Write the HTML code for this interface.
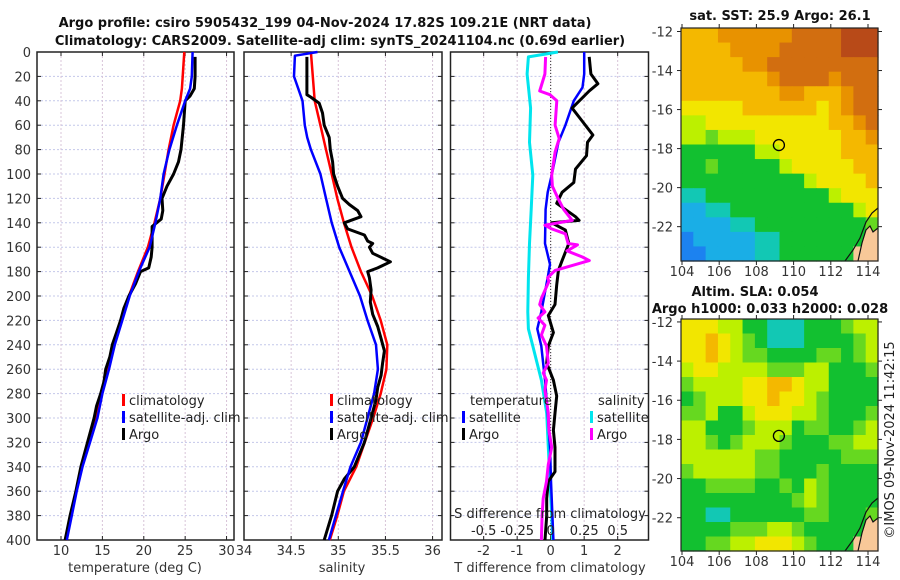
<!DOCTYPE html>
<html><head><meta charset="utf-8">
<style>
html,body{margin:0;padding:0;background:#fff;}
svg{display:block;font-family:"DejaVu Sans","Liberation Sans",sans-serif;}
</style></head>
<body>
<svg id="fig" width="900" height="580" viewBox="0 0 900 580" xmlns="http://www.w3.org/2000/svg">
<text x="325" y="27" text-anchor="middle" font-size="13" font-weight="bold" fill="#111">Argo profile: csiro 5905432_199 04-Nov-2024 17.82S 109.21E (NRT data)</text>
<text x="340" y="45" text-anchor="middle" font-size="13" font-weight="bold" fill="#111">Climatology: CARS2009. Satellite-adj clim: synTS_20241104.nc (0.69d earlier)</text>
<text x="780" y="20" text-anchor="middle" font-size="13" font-weight="bold" fill="#111">sat. SST: 25.9 Argo: 26.1</text>
<text x="755" y="296" text-anchor="middle" font-size="13" font-weight="bold" fill="#111">Altim. SLA: 0.054</text>
<text x="770" y="313" text-anchor="middle" font-size="13" font-weight="bold" fill="#111">Argo h1000: 0.033 h2000: 0.028</text>
<text transform="translate(894,440) rotate(-90)" text-anchor="middle" font-size="13" fill="#222">©IMOS 09-Nov-2024 11:42:15</text>
<g id="g"></g>
</svg>
<script>
// ---------- data ----------
const tDepth = [0,20,30,40,60,80,100,120,140,160,180,200,220,240,260,280,300,320,340,360,380,400];
const tClim  = [24.9,24.7,24.6,24.4,23.6,23.0,22.5,22.0,21.3,20.5,19.3,18.2,17.3,16.4,15.6,14.9,14.2,13.4,12.5,11.8,11.2,10.6];
const tSat   = [25.9,25.8,25.6,25.0,24.0,23.1,22.4,22.0,21.4,20.7,19.4,18.3,17.4,16.5,15.8,15.0,14.4,13.5,12.6,11.9,11.3,10.7];
const tArgoDepth = [4,20,30,36,40,60,80,90,100,110,120,130,137,143,150,160,168,177,180,190,200,210,220,230,240,250,260,270,280,290,300,320,340,360,380,400];
const tArgo  = [26.2,26.2,26.1,25.6,25.0,24.8,24.5,24.2,23.6,22.8,22.2,22.3,22.1,21.0,21.0,21.0,20.9,20.6,19.6,19.0,18.2,17.6,17.2,16.7,16.2,15.9,15.4,15.2,14.8,14.3,14.0,13.2,12.4,11.8,11.1,10.5];

const sDepth = [0,20,40,60,80,100,120,140,160,180,200,220,240,260,280,300,320,340,360,380,400];
const sClim  = [34.71,34.73,34.75,34.81,34.87,34.93,34.99,35.06,35.14,35.24,35.36,35.45,35.52,35.51,35.45,35.37,35.28,35.19,35.06,34.99,34.91];
const sSatDepth = [0,3,20,40,60,70,80,100,120,140,160,180,200,220,240,260,280,300,320,340,360,380,400];
const sSat   = [34.78,34.54,34.53,34.62,34.645,34.67,34.71,34.81,34.87,34.93,35.01,35.12,35.23,35.31,35.40,35.42,35.38,35.31,35.24,35.13,35.05,34.975,34.90];
const sArgoDepth = [4,20,35,37,42,50,60,70,80,90,100,110,120,125,130,135,140,145,150,155,157,160,165,172,177,180,185,195,205,215,225,235,245,255,265,275,285,300,320,340,350,360,380,400];
const sArgo  = [34.667,34.667,34.667,34.709,34.798,34.833,34.851,34.904,34.915,34.94,34.95,34.993,35.046,35.117,35.206,35.241,35.064,35.099,35.277,35.312,35.365,35.33,35.365,35.553,35.418,35.312,35.33,35.348,35.34,35.365,35.418,35.454,35.489,35.47,35.454,35.418,35.40,35.348,35.277,35.17,35.064,34.993,34.929,34.851];

const dsSatDepth = [0,4,18,46,74,101,129,157,185,213,227,241,269,296,324,352,380,400];
const dsSat = [0.054,-0.166,-0.176,-0.15,-0.158,-0.133,-0.145,-0.158,-0.166,-0.171,-0.166,-0.133,-0.069,-0.03,-0.018,-0.005,0.008,0.015];
const dsArgoDepth = [4,18,32,35,40,60,71,82,101,110,121,129,138,142,145,149,157,158,163,168,171,179,185,188,202,207,213,218,224,232,241,255,263,269,277,296,310,324,338,352,366,380,400];
const dsArgo = [-0.038,-0.043,-0.082,-0.005,0.046,0.033,0.064,0.033,0.008,0.013,0.059,0.097,0.161,-0.043,0.008,0.11,0.13,0.2,0.122,0.237,0.288,0.033,-0.023,-0.013,-0.069,-0.082,-0.043,-0.094,-0.043,-0.069,-0.031,-0.018,-0.056,-0.031,-0.043,-0.018,-0.013,0.008,-0.018,-0.031,-0.056,-0.064,-0.069];
const dtSatDepth = [0,18,29,40,60,74,101,115,129,157,174,185,213,227,241,269,296,324,352,400];
const dtSat = [1.0,1.0,0.95,0.69,0.44,0.23,0.03,-0.09,-0.15,-0.17,-0.02,-0.09,-0.28,-0.40,-0.28,-0.17,-0.09,-0.02,0.01,0.08];
const dtArgoDepth = [4,18,26,32,46,57,68,74,85,96,107,115,124,135,138,140,146,157,171,179,191,207,216,230,241,255,269,282,296,310,324,344,352,366,380,400];
const dtArgo = [1.15,1.20,1.41,1.15,0.64,0.95,1.26,1.10,1.07,0.74,0.69,0.34,0.18,0.74,0.85,0.03,0.44,0.54,0.34,0.23,0.18,0.13,-0.07,0.08,-0.07,-0.12,0.08,0.18,0.13,0.08,0.13,0.13,-0.07,-0.12,-0.12,-0.17];

const depthTicks = [0,20,40,60,80,100,120,140,160,180,200,220,240,260,280,300,320,340,360,380,400];
const tTicks = [10,15,20,25,30];
const sTicks = [34,34.5,35,35.5,36];
const sTickLabels = ['34','34.5','35','35.5','36'];
const dTicks = [-2,-1,0,1,2];
const dsTicks = [-0.5,-0.25,0,0.25,0.5];
const dsTickLabels = ['-0.5','-0.25','0','0.25','0.5'];

const sstRows = [
"7778888889999aaa","7777888899999aaa","7777788999999999","7777777899998999",
"7777777788777899","6666677777767899","5566666666667789","5545556666666778",
"3333335566666777","3343333356666677","3333333333566667","2233333333335666",
"1122333333333356","1111223333333334","011111223333333L","00111122333333LL"];
const slaRows = [
"6665533222333455","6676543222333345","6676544333344345","5665555444553334",
"4555566776553333","3455566766543333","4453356665543334","5533345553443345",
"5543455543334455","5555554433333444","4555554433343333","3344443343543333",
"3333333334543333","3322333333443334","333344455433333L","33445566654333LL"];
const lonTicks = [104,106,108,110,112,114];
const latTicks = [-12,-14,-16,-18,-20,-22];
const argoLon = 109.21, argoLat = -17.82;

// ---------- helpers ----------
const NS='http://www.w3.org/2000/svg';
const G=document.getElementById('g');
function mk(tag, attrs, parent){const e=document.createElementNS(NS,tag);for(const k in attrs)e.setAttribute(k,attrs[k]);(parent||G).appendChild(e);return e;}
const Y0=52, Y1=540;
const yD = d => Y0 + d*(Y1-Y0)/400;

const panels = [
 {x0:37,x1:234,lo:7.1,hi:30.9,name:'temperature-panel'},
 {x0:244,x1:442,lo:34,hi:36.1,name:'salinity-panel'},
 {x0:450.5,x1:648.5,lo:-2.99,hi:2.92,name:'difference-panel'}];
function sx(p,v){return p.x0+(v-p.lo)*(p.x1-p.x0)/(p.hi-p.lo);}
const P3s = v => sx(panels[2], v*4);

function frame(p, xt, xl){
  const g=mk('g',{});
  
  
  depthTicks.forEach(d=>{
    const l=mk('line',{x1:p.x0,x2:p.x1,y1:yD(d),y2:yD(d),stroke:'#c4c8ea','stroke-width':1,'stroke-dasharray':'2,2'},g);
    
    
    mk('line',{x1:p.x0,x2:p.x0+4,y1:yD(d),y2:yD(d),stroke:'#222'},g);
    mk('line',{x1:p.x1,x2:p.x1-4,y1:yD(d),y2:yD(d),stroke:'#222'},g);
  });
  xt.forEach((v,i)=>{
    const x=sx(p,v);
    const l=mk('line',{x1:x,x2:x,y1:Y0,y2:Y1,stroke:'#d8c4d8','stroke-width':1,'stroke-dasharray':'2,2'},g);
    
    
    mk('line',{x1:x,x2:x,y1:Y1,y2:Y1-4,stroke:'#222'},g);
    mk('line',{x1:x,x2:x,y1:Y0,y2:Y0+4,stroke:'#222'},g);
    const t=mk('text',{x:x,y:555,'text-anchor':'middle','font-size':13,fill:'#333'},g);
    t.textContent=xl[i];
    
    
  });
  const r=mk('rect',{x:p.x0,y:Y0,width:p.x1-p.x0,height:Y1-Y0,fill:'none',stroke:'#222','stroke-width':1.5},g);
  
  
  return g;
}
function line(xs, ds, fx, color, w, name){
  const pts=xs.map((v,i)=>fx(v).toFixed(1)+','+yD(ds[i]).toFixed(1)).join(' ');
  const e=mk('polyline',{points:pts,fill:'none',stroke:color,'stroke-width':w,'stroke-linejoin':'round'});
  
  
}
function txt(x,y,s,opts,name){
  const t=mk('text',Object.assign({x:x,y:y,'font-size':13,fill:'#222'},opts||{}));
  t.textContent=s;
  
  
  return t;
}
function legItem(x,y,color,label,name){
  const r=mk('rect',{x:x,y:y-11,width:3,height:12,fill:color});
  
  
  txt(x+7,y,label,{},name);
}

// y tick labels
depthTicks.forEach(d=>{
  const t=txt(31,yD(d)+5,String(d),{'text-anchor':'end',fill:'#333'},'y-tick-label');
});

// panel 1
frame(panels[0], tTicks, tTicks.map(String));
const f1=v=>sx(panels[0],v);
line(tClim,tDepth,f1,'#ff0000',2.5,'temperature-climatology-line');
line(tArgo,tArgoDepth,f1,'#000000',3,'temperature-argo-line');
line(tSat,tDepth,f1,'#0000ff',2.5,'temperature-satellite-line');
txt(135,572,'temperature (deg C)',{'text-anchor':'middle',fill:'#333'},'temperature-axis-title');
legItem(122,405,'#ff0000','climatology','legend-climatology');
legItem(122,422,'#0000ff','satellite-adj. clim','legend-satellite-adj-clim');
legItem(122,439,'#000000','Argo','legend-argo');

// panel 2
frame(panels[1], sTicks, sTickLabels);
const f2=v=>sx(panels[1],v);
line(sClim,sDepth,f2,'#ff0000',2.5,'salinity-climatology-line');
line(sArgo,sArgoDepth,f2,'#000000',3,'salinity-argo-line');
line(sSat,sSatDepth,f2,'#0000ff',2.5,'salinity-satellite-line');
txt(342,572,'salinity',{'text-anchor':'middle',fill:'#333'},'salinity-axis-title');
legItem(330,405,'#ff0000','climatology','legend-s-climatology');
legItem(330,422,'#0000ff','satellite-adj. clim','legend-s-satellite-adj-clim');
legItem(330,439,'#000000','Argo','legend-s-argo');

// panel 3
frame(panels[2], dTicks, dTicks.map(String));
const f3=v=>sx(panels[2],v);
const z=mk('line',{x1:f3(0),x2:f3(0),y1:Y0,y2:Y1,stroke:'#333','stroke-width':1,'stroke-dasharray':'1,2'});


line(dsSat,dsSatDepth,P3s,'#00e5ee',3,'salinity-diff-satellite-line');
line(dtSat,dtSatDepth,f3,'#0000ff',2.5,'temperature-diff-satellite-line');
line(dtArgo,dtArgoDepth,f3,'#000000',3,'temperature-diff-argo-line');
line(dsArgo,dsArgoDepth,P3s,'#ff00ff',3,'salinity-diff-argo-line');
txt(550,572,'T difference from climatology',{'text-anchor':'middle',fill:'#333'},'t-diff-axis-title');
txt(550,518,'S difference from climatology',{'text-anchor':'middle',fill:'#222'},'s-diff-axis-title');
dsTicks.forEach((v,i)=>txt(P3s(v),535,dsTickLabels[i],{'text-anchor':'middle',fill:'#222'},'s-diff-tick-label'));
txt(470,405,'temperature',{},'legend-temperature-header');
legItem(462,422,'#0000ff','satellite','legend-t-satellite');
legItem(462,439,'#000000','Argo','legend-t-argo');
txt(598,405,'salinity',{},'legend-salinity-header');
legItem(590,422,'#00e5ee','satellite','legend-s-satellite');
legItem(590,439,'#ff00ff','Argo','legend-s-argo');

// ---------- maps ----------
const palette={'0':'#1c82f0','1':'#1aaee6','2':'#12c8b4','3':'#12c030','4':'#66d820','5':'#bcf000','6':'#f2e600','7':'#f4b800','8':'#e89200','9':'#d26e10','a':'#b84a18','L':'#f8c898'};
function drawMap(rows, mx0, mx1, my0, my1, latTop, latBot, name, latTickY0){
  const g=mk('g',{});
  
  
  const nr=rows.length, nc=rows[0].length, cw=(mx1-mx0)/nc, ch=(my1-my0)/nr;
  rows.forEach((row,r)=>{[...row].forEach((c,ci)=>{
    const cell=mk('rect',{x:(mx0+ci*cw).toFixed(2),y:(my0+r*ch).toFixed(2),width:(cw+0.6).toFixed(2),height:(ch+0.6).toFixed(2),fill:palette[c]},g);
    
    
  });});
  const lonX=l=>682+(l-104)*18.6;
  const latY=l=>my0+(latTop-l)*(my1-my0)/(latTop-latBot);
  // land & coast
  const oy=my1-261;
  const land=mk('polygon',{points:[[858,261],[862,243],[866,230],[870,226],[873,232],[878,228],[878,261]].map(p=>p[0]+','+(p[1]+oy)).join(' '),fill:'#f8c898'},g);
  
  
  const coast=mk('polyline',{points:[[845,261],[853,250],[860,238],[866,222],[872,213],[878,208]].map(p=>p[0]+','+(p[1]+oy)).join(' '),fill:'none',stroke:'#111','stroke-width':1.2},g);
  
  
  mk('polyline',{points:[[858,261],[862,243],[866,230],[870,226],[873,232],[878,228]].map(p=>p[0]+','+(p[1]+oy)).join(' '),fill:'none',stroke:'#111','stroke-width':1.2},g);
  const fr=mk('rect',{x:mx0,y:my0,width:mx1-mx0,height:my1-my0,fill:'none',stroke:'#222','stroke-width':1.2},g);
  
  
  lonTicks.forEach(l=>{
    const x=lonX(l);
    mk('line',{x1:x,x2:x,y1:my1,y2:my1+4,stroke:'#222'},g);
    mk('line',{x1:x,x2:x,y1:my0,y2:my0-4,stroke:'#222'},g);
    const t=mk('text',{x:x,y:my1+15,'text-anchor':'middle','font-size':13,fill:'#333'},g);
    t.textContent=String(l);
    
    
  });
  latTicks.forEach(l=>{
    const y=latY(l);
    mk('line',{x1:mx0,x2:mx0-4,y1:y,y2:y,stroke:'#222'},g);
    mk('line',{x1:mx1,x2:mx1+4,y1:y,y2:y,stroke:'#222'},g);
    const t=mk('text',{x:mx0-8,y:y+5,'text-anchor':'end','font-size':13,fill:'#333'},g);
    t.textContent=String(l);
    
    
  });
  const m=mk('circle',{cx:lonX(argoLon),cy:latY(argoLat),r:5.5,fill:'none',stroke:'#000','stroke-width':1.3},g);
  
  
}
drawMap(sstRows,681,878,28,261,-11.82,-23.76,'sst-map');
drawMap(slaRows,681,878,319,551,-11.85,-23.7,'sla-map');
</script>
</body></html>
